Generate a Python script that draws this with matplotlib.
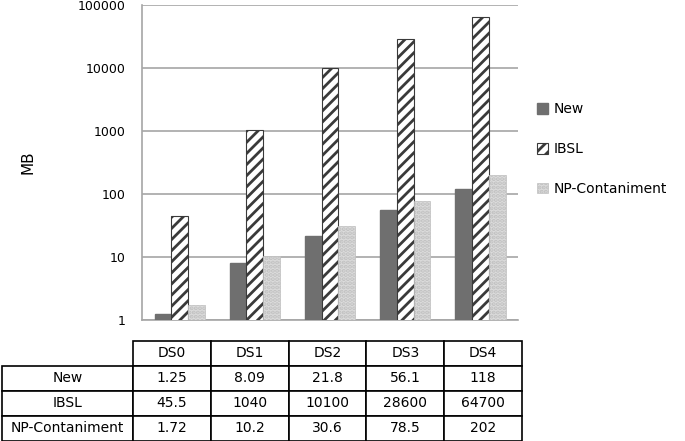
import numpy as np
import matplotlib.pyplot as plt
from matplotlib.patches import Patch

datasets = ["DS0", "DS1", "DS2", "DS3", "DS4"]
series = ["New", "IBSL", "NP-Contaniment"]
new_mb = [1.25, 8.09, 21.8, 56.1, 118]
ibsl_mb = [45.5, 1040, 10100, 28600, 64700]
np_mb = [1.72, 10.2, 30.6, 78.5, 202]
new_txt = ["1.25", "8.09", "21.8", "56.1", "118"]
ibsl_txt = ["45.5", "1040", "10100", "28600", "64700"]
np_txt = ["1.72", "10.2", "30.6", "78.5", "202"]

plt.rcParams['hatch.linewidth'] = 2.0
fig = plt.figure(figsize=(6.85, 4.41), dpi=100)
ax = fig.add_axes([0.2073, 0.2744, 0.549, 0.7143])

x = np.arange(len(datasets))
w = 0.222
styles = [
    dict(color="#6f6f6f", edgecolor="#6f6f6f"),
    dict(facecolor="white", edgecolor="#3a3a3a", hatch="///", linewidth=0.8),
    dict(facecolor="#dcdcdc", edgecolor="#c0c0c0", hatch="....", linewidth=0.5),
]
for i, vals in enumerate([new_mb, ibsl_mb, np_mb]):
    ax.bar(x + (i - 1) * w, vals, w, label=series[i], zorder=3, **styles[i])

ax.set_yscale("log")
ax.set_ylim(1, 100000)
ax.set_xlim(-0.5, 4.5)
ax.set_yticks([1, 10, 100, 1000, 10000, 100000])
ax.set_yticklabels(["1", "10", "100", "1000", "10000", "100000"])
ax.minorticks_off()
ax.set_xticks([])
ax.tick_params(axis="y", length=0, pad=12, labelsize=9)
ax.grid(axis="y", color="#a6a6a6", linewidth=1.2, zorder=0)
for s in ["top", "right"]:
    ax.spines[s].set_visible(False)
ax.spines["left"].set_color("#a6a6a6")
ax.spines["bottom"].set_color("#a6a6a6")
ax.spines["left"].set_linewidth(1.2)
ax.spines["bottom"].set_linewidth(1.2)
ax.set_ylabel("MB", fontsize=11, labelpad=30)

handles = [Patch(**styles[0]), Patch(**styles[1]), Patch(**styles[2])]
fig.legend(handles, series, loc="center left", bbox_to_anchor=(0.766, 0.662),
           frameon=False, fontsize=10, handlelength=0.8, handleheight=0.8,
           labelspacing=1.85, handletextpad=0.4)

# data table below the chart
tax = fig.add_axes([0.003, 0.0, 0.759, 0.227])
tax.axis("off")
cells = [[""] + datasets,
         ["New"] + new_txt,
         ["IBSL"] + ibsl_txt,
         ["NP-Contaniment"] + np_txt]
first = 131 / 520
others = (1 - first) / 5
tbl = tax.table(cellText=cells, bbox=[0, 0, 1, 1], cellLoc="center",
                colWidths=[first] + [others] * 5)
tbl.auto_set_font_size(False)
for (r, c), cell in tbl.get_celld().items():
    cell.set_fontsize(10)
    cell.set_linewidth(1.2)
    if r == 0 and c == 0:
        cell.set_visible(False)

fig.savefig("out.png", dpi=100)
